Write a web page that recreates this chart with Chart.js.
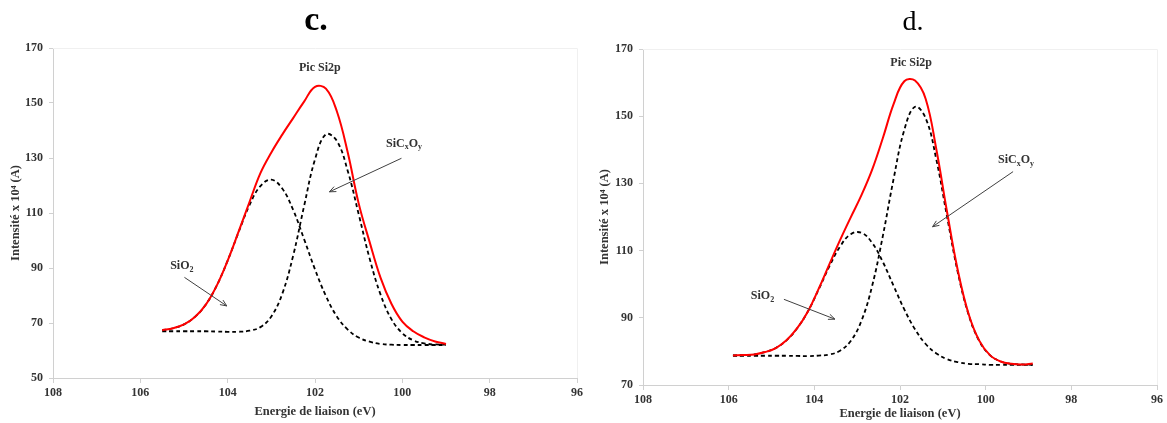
<!DOCTYPE html>
<html>
<head>
<meta charset="utf-8">
<script src="https://cdn.jsdelivr.net/npm/chart.js@4.4.1/dist/chart.umd.min.js"></script>
<style>
  body { margin: 0; background: #fff; width: 1167px; height: 423px; overflow: hidden; }
  canvas { position: absolute; top: 0; }
</style>
</head>
<body>
<canvas id="chartC" width="590" height="423" style="left:0"></canvas>
<canvas id="chartD" width="574" height="423" style="left:593px"></canvas>
<script>
// ---- data, panel c ----
const energyC = [105.5, 105.25, 105.0, 104.75, 104.5, 104.25, 104.0, 103.75, 103.5, 103.25, 103.0, 102.75, 102.5, 102.25, 102.0, 101.75, 101.5, 101.25, 101.0, 100.75, 100.5, 100.25, 100.0, 99.75, 99.5, 99.25, 99.0];
const totalC = [67.4, 68.1, 69.5, 72.2, 76.7, 83.6, 92.7, 103.2, 114.0, 124.5, 132.0, 138.5, 144.5, 150.5, 155.9, 155.2, 147.0, 132.0, 113.5, 99.5, 86.5, 77.0, 70.5, 67.0, 64.8, 63.3, 62.4];
const sio2C = [67.4, 68.1, 69.5, 72.2, 76.7, 83.6, 92.7, 103.0, 112.9, 119.8, 122.1, 118.9, 111.1, 100.5, 89.5, 79.8, 72.4, 67.6, 64.7, 63.2, 62.4, 62.1, 62.0, 62.0, 62.0, 62.0, 62.0];
const sicxoyC = [67.0, 67.0, 67.0, 67.0, 67.0, 66.9, 66.8, 66.8, 67.2, 68.5, 72.4, 80.6, 94.5, 112.5, 129.5, 138.6, 136.2, 125.3, 109.6, 93.5, 80.4, 71.4, 66.3, 63.7, 62.6, 62.2, 62.1];

// ---- data, panel d ----
const energyD = [105.9, 105.65, 105.4, 105.15, 104.9, 104.65, 104.4, 104.15, 103.9, 103.65, 103.4, 103.15, 102.9, 102.65, 102.4, 102.15, 101.9, 101.65, 101.4, 101.15, 100.9, 100.65, 100.4, 100.15, 99.9, 99.65, 99.4, 99.15, 98.9];
const totalD = [78.8, 78.9, 79.1, 79.8, 81.0, 83.3, 86.9, 91.9, 98.6, 105.9, 113.1, 119.9, 126.5, 134.1, 143.5, 153.6, 160.4, 160.6, 155.1, 140.0, 121.4, 104.1, 91.2, 83.2, 78.9, 77.0, 76.3, 76.1, 76.4];
const sio2D = [78.8, 78.9, 79.1, 79.8, 81.0, 83.3, 86.9, 91.9, 98.4, 105.3, 111.2, 114.9, 115.3, 112.3, 106.6, 99.5, 92.5, 86.6, 82.2, 79.4, 77.7, 76.8, 76.3, 76.2, 76.0, 76.0, 76.0, 76.0, 76.0];
const sicxoyD = [78.7, 78.7, 78.7, 78.7, 78.7, 78.7, 78.65, 78.6, 78.75, 79.05, 80.2, 83.1, 89.1, 99.5, 114.4, 131.3, 145.9, 152.8, 149.4, 137.0, 120.0, 103.5, 91.0, 83.1, 78.9, 77.0, 76.3, 76.1, 76.0];

// axis ticks
const xTickStep = 2;
const yTickStep = 20;

const serif = "'Liberation Serif', 'DejaVu Serif', serif";
const textColor = "#333333";
const axisColor = "#d0d0d0";

function pairs(xs, ys) {
  return xs.map((x, i) => ({ x: x, y: ys[i] }));
}

function drawRich(ctx, parts, cx, cy) {
  const main = "bold 12px " + serif;
  const sub = "bold 8px " + serif;
  let w = 0;
  parts.forEach((p) => {
    ctx.font = p[1] ? sub : main;
    w += ctx.measureText(p[0]).width;
  });
  let px = cx - w / 2;
  ctx.textAlign = "left";
  ctx.textBaseline = "middle";
  ctx.fillStyle = textColor;
  parts.forEach((p) => {
    ctx.font = p[1] ? sub : main;
    ctx.fillText(p[0], px, p[1] ? cy + 4 : cy);
    px += ctx.measureText(p[0]).width;
  });
}

function drawArrow(ctx, x1, y1, x2, y2) {
  const a = Math.atan2(y2 - y1, x2 - x1);
  const len = 7;
  ctx.strokeStyle = "#404040";
  ctx.lineWidth = 1;
  ctx.beginPath();
  ctx.moveTo(x1, y1);
  ctx.lineTo(x2, y2);
  ctx.moveTo(x2 - len * Math.cos(a - 0.4), y2 - len * Math.sin(a - 0.4));
  ctx.lineTo(x2, y2);
  ctx.lineTo(x2 - len * Math.cos(a + 0.4), y2 - len * Math.sin(a + 0.4));
  ctx.stroke();
}

const peakLabels = {
  id: "peakLabels",
  afterDatasetsDraw(chart, args, opts) {
    const { ctx, chartArea, scales: { x, y } } = chart;
    ctx.save();
    // faint plot-area frame (top and right)
    ctx.strokeStyle = "#f0f0f0";
    ctx.lineWidth = 1;
    ctx.beginPath();
    ctx.moveTo(chartArea.left, chartArea.top + 0.5);
    ctx.lineTo(chartArea.right + 0.5, chartArea.top + 0.5);
    ctx.lineTo(chartArea.right + 0.5, chartArea.bottom);
    ctx.stroke();

    // panel heading
    const h = opts.heading;
    ctx.font = h.font;
    ctx.fillStyle = "#000";
    ctx.textAlign = "center";
    ctx.textBaseline = "alphabetic";
    ctx.fillText(h.text, (chartArea.left + chartArea.right) / 2 + h.dx, h.baseline);

    (opts.items || []).forEach((it) => {
      drawRich(ctx, it.parts, x.getPixelForValue(it.x), y.getPixelForValue(it.y));
      if (it.arrow) {
        drawArrow(ctx,
          x.getPixelForValue(it.arrow[0]), y.getPixelForValue(it.arrow[1]),
          x.getPixelForValue(it.arrow[2]), y.getPixelForValue(it.arrow[3]));
      }
    });
    ctx.restore();
  },
};

function buildChart(id, cfg) {
  const ctx = document.getElementById(id).getContext("2d");
  return new Chart(ctx, {
    type: "line",
    data: {
      datasets: [
        {
          label: "Pic Si2p",
          data: pairs(cfg.energy, cfg.total),
          borderColor: "#ff0000",
          borderWidth: 2,
          order: 0,
        },
        {
          label: "SiO2",
          data: pairs(cfg.energy, cfg.sio2),
          borderColor: "#000000",
          borderWidth: 1.8,
          borderDash: [4, 3],
          order: 1,
        },
        {
          label: "SiCxOy",
          data: pairs(cfg.energy, cfg.sicxoy),
          borderColor: "#000000",
          borderWidth: 1.8,
          borderDash: [4, 3],
          order: 2,
        },
      ],
    },
    options: {
      responsive: false,
      animation: false,
      events: [],
      layout: { padding: { top: cfg.top, right: cfg.right, left: 0, bottom: 0 } },
      elements: {
        point: { radius: 0 },
        line: { tension: 0.4, fill: false },
      },
      scales: {
        x: {
          type: "linear",
          reverse: true,
          min: 96,
          max: 108,
          afterFit: (s) => { s.height = cfg.xHeight; },
          ticks: {
            stepSize: xTickStep,
            color: textColor,
            padding: 3,
            font: { family: serif, size: 12, weight: "bold" },
          },
          grid: { drawOnChartArea: false, drawTicks: true, tickLength: 5, color: axisColor },
          border: { color: axisColor },
          title: {
            display: true,
            text: "Energie de liaison (eV)",
            color: textColor,
            font: { family: serif, size: 12.5, weight: "bold" },
            padding: { top: 0, bottom: cfg.xTitlePad },
          },
        },
        y: {
          min: cfg.yMin,
          max: 170,
          afterFit: (s) => { s.width = cfg.yWidth; },
          ticks: {
            stepSize: yTickStep,
            color: textColor,
            padding: 6,
            font: { family: serif, size: 12, weight: "bold" },
          },
          grid: { drawOnChartArea: false, drawTicks: true, tickLength: 4, color: axisColor },
          border: { color: axisColor },
          title: {
            display: true,
            text: "Intensité x 10⁴ (A)",
            color: textColor,
            font: { family: serif, size: 12.5, weight: "bold" },
            padding: { top: cfg.yTitlePad, bottom: 0 },
          },
        },
      },
      plugins: {
        legend: { display: false },
        tooltip: { enabled: false },
        title: { display: false },
        peakLabels: { heading: cfg.heading, items: cfg.items },
      },
    },
    plugins: [peakLabels],
  });
}

buildChart("chartC", {
  energy: energyC, total: totalC, sio2: sio2C, sicxoy: sicxoyC,
  yMin: 50, top: 48, right: 13, xHeight: 45, yWidth: 53, xTitlePad: 4, yTitlePad: 8,
  heading: { text: "c.", font: "bold 34px " + serif, dx: 1, baseline: 30 },
  items: [
    { parts: [["Pic Si2p", false]], x: 101.89, y: 162.7 },
    { parts: [["SiC", false], ["x", true], ["O", false], ["y", true]], x: 99.96, y: 135.3,
      arrow: [100.02, 129.9, 101.67, 117.7] },
    { parts: [["SiO", false], ["2", true]], x: 105.05, y: 90.7,
      arrow: [104.99, 86.6, 104.02, 76.2] },
  ],
});

buildChart("chartD", {
  energy: energyD, total: totalD, sio2: sio2D, sicxoy: sicxoyD,
  yMin: 70, top: 49, right: 10, xHeight: 38, yWidth: 50, xTitlePad: 2, yTitlePad: 4,
  heading: { text: "d.", font: "28px " + serif, dx: 13, baseline: 30 },
  items: [
    { parts: [["Pic Si2p", false]], x: 101.74, y: 166.0 },
    { parts: [["SiC", false], ["x", true], ["O", false], ["y", true]], x: 99.29, y: 137.0,
      arrow: [99.36, 133.5, 101.24, 117.1] },
    { parts: [["SiO", false], ["2", true]], x: 105.21, y: 96.5,
      arrow: [104.71, 95.5, 103.52, 89.6] },
  ],
});
</script>
</body>
</html>
